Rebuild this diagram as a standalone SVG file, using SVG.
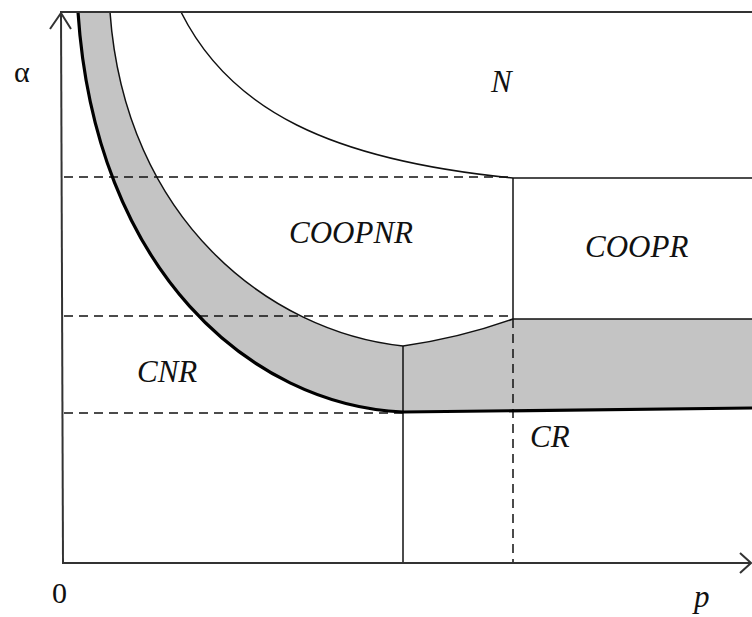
<svg xmlns="http://www.w3.org/2000/svg" width="752" height="617" viewBox="0 0 752 617">
<style>
.thin{fill:none;stroke:#111;stroke-width:1.5}
.thick{fill:none;stroke:#000;stroke-width:3.2}
.dash{fill:none;stroke:#111;stroke-width:1.5;stroke-dasharray:9,6}
.axis{fill:none;stroke:#333;stroke-width:2}
</style>
<rect width="752" height="617" fill="#fff"/>
<g id="band">
<path d="M78,12 C95,270 250,405 403,412 L752,408 L752,319 L513,319 Q460,338 403,346 C270,332 125,220 110,12 Z" fill="#c4c4c4"/>
</g>
<g id="connectors">
<line class="dash" x1="64" y1="177" x2="513" y2="177"/>
<line class="dash" x1="64" y1="316" x2="513" y2="316"/>
<line class="dash" x1="64" y1="413" x2="403" y2="413"/>
<line class="dash" x1="513" y1="319" x2="513" y2="563"/>
<line class="thin" x1="513" y1="178" x2="513" y2="319"/>
<line class="thin" x1="513" y1="178" x2="752" y2="178"/>
<line class="thin" x1="403" y1="346" x2="403" y2="563"/>
<path class="thin" d="M181,12 C230,110 330,160 513,178"/>
<path class="thin" d="M110,12 C125,220 270,332 403,346 Q460,338 513,319 L752,319"/>
<path class="thick" d="M78,12 C95,270 250,405 403,412 L752,408"/>
<line class="axis" x1="60" y1="12" x2="752" y2="12"/>
<line class="axis" x1="61" y1="12" x2="63" y2="563"/>
<path class="axis" d="M50,29 L61,13 L71,29"/>
<line class="axis" x1="62" y1="563" x2="751" y2="563"/>
<path class="axis" d="M740,553 L751,563 L740,573"/>
</g>
<g id="labels" font-family="Liberation Serif, serif" fill="#111" font-size="31">
<text x="14" y="82" font-size="30">α</text>
<text x="491" y="92" font-style="italic">N</text>
<text x="289" y="243" font-style="italic">COOPNR</text>
<text x="585" y="257" font-style="italic">COOPR</text>
<text x="137" y="382" font-style="italic">CNR</text>
<text x="530" y="447" font-style="italic">CR</text>
<text x="52" y="603" font-size="30">0</text>
<text x="694" y="607" font-style="italic">p</text>
</g>
</svg>
